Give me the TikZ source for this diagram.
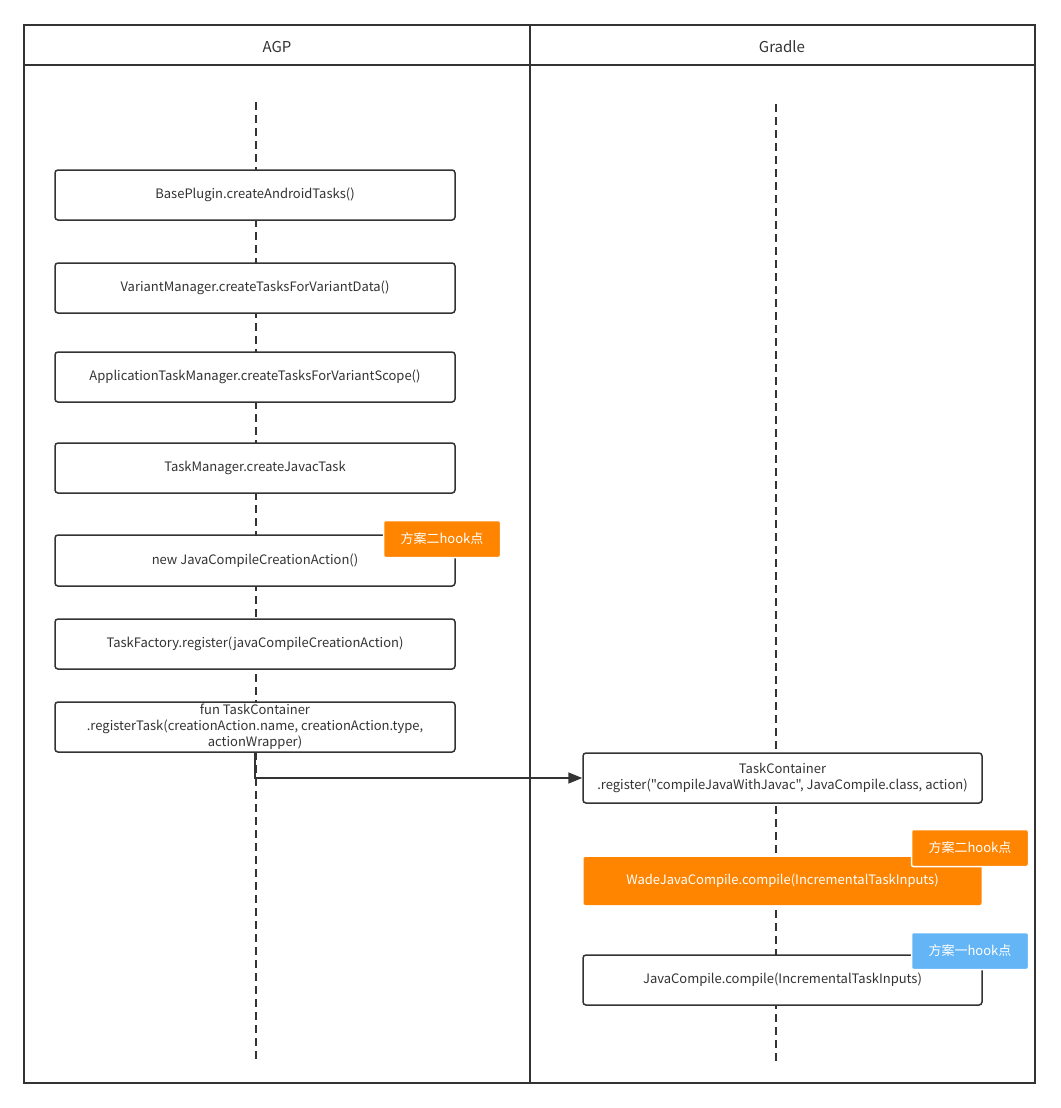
\documentclass[tikz,border=0pt]{standalone}
\usepackage{fontspec}
\setmainfont{Noto Sans CJK SC}[Ligatures=TeXOff]
\usetikzlibrary{arrows.meta}
\definecolor{ink}{HTML}{333333}
\definecolor{hookorange}{HTML}{FF8400}
\definecolor{hookblue}{HTML}{64B5F6}
\tikzset{
  lane/.style={draw=ink, line width=1.6pt},
  lanehead/.style={text=ink, font=\fontsize{15}{18}\selectfont},
  lifeline/.style={draw=ink, line width=1.5pt, dash pattern=on 8pt off 5pt},
  taskbox/.style={draw=ink, fill=white, line width=1.5pt, rounded corners=3pt, minimum width=400pt, minimum height=50pt, text=ink, font=\fontsize{13}{16}\selectfont, align=center, inner sep=0pt},
  hotbox/.style={fill=hookorange, rounded corners=2pt, minimum width=398pt, minimum height=48pt, text=white, font=\fontsize{13}{16}\selectfont, inner sep=0pt},
  hooktag/.style={draw=white, line width=1.5pt, rounded corners=2pt, minimum width=117pt, minimum height=37pt, text=white, font=\fontsize{13}{16}\selectfont, inner sep=0pt},
  flow/.style={draw=ink, line width=1.6pt, -{Triangle[length=14pt,width=11pt]}}
}
\begin{document}
\begin{tikzpicture}[x=1pt,y=-1pt]
\useasboundingbox (0,0) rectangle (1060,1108);
% swimlanes
\draw[lane] (24,25) rectangle (1035,1083);
\draw[lane] (24,65) -- (1035,65);
\draw[lane] (530,25) -- (530,1083);
\node[lanehead] (agp) at (277,47) {AGP};
\node[lanehead] (gradle) at (782,47) {Gradle};
% lifelines
\coordinate (lt) at (256,102);
\coordinate (lb) at (256,1060);
\coordinate (rt) at (776,104);
\coordinate (rb) at (776,1062);
\draw[lifeline] (lt) -- (lb);
\draw[lifeline] (rt) -- (rb);
% AGP boxes
\node[taskbox] (base) at (255,195) {BasePlugin.createAndroidTasks()};
\node[taskbox] (variant) at (255,288) {VariantManager.createTasksForVariantData()};
\node[taskbox] (app) at (255,377) {ApplicationTaskManager.createTasksForVariantScope()};
\node[taskbox] (tm) at (255,468) {TaskManager.createJavacTask};
\node[taskbox, minimum height=51pt] (newjc) at (255,560.5) {new JavaCompileCreationAction()};
\node[taskbox] (factory) at (255,644) {TaskFactory.register(javaCompileCreationAction)};
\node[taskbox] (tc) at (255,727) {fun TaskContainer\\.registerTask(creationAction.name, creationAction.type,\\actionWrapper)};
% Gradle boxes
\node[taskbox, minimum width=399pt] (reg) at (782.5,778) {TaskContainer\\.register("compileJavaWithJavac", JavaCompile.class, action)};
\node[hotbox] (wade) at (782.5,881) {WadeJavaCompile.compile(IncrementalTaskInputs)};
\node[taskbox, minimum width=399pt] (jc) at (782.5,980) {JavaCompile.compile(IncrementalTaskInputs)};
% hook tags
\node[hooktag, fill=hookorange] (tag1) at (442,539) {方案二hook点};
\node[hooktag, fill=hookorange] (tag2) at (970,848) {方案二hook点};
\node[hooktag, fill=hookblue] (tag3) at (970,951) {方案一hook点};
% call arrow
\draw[flow] (tc.south) |- (reg.west);
\end{tikzpicture}
\end{document}
